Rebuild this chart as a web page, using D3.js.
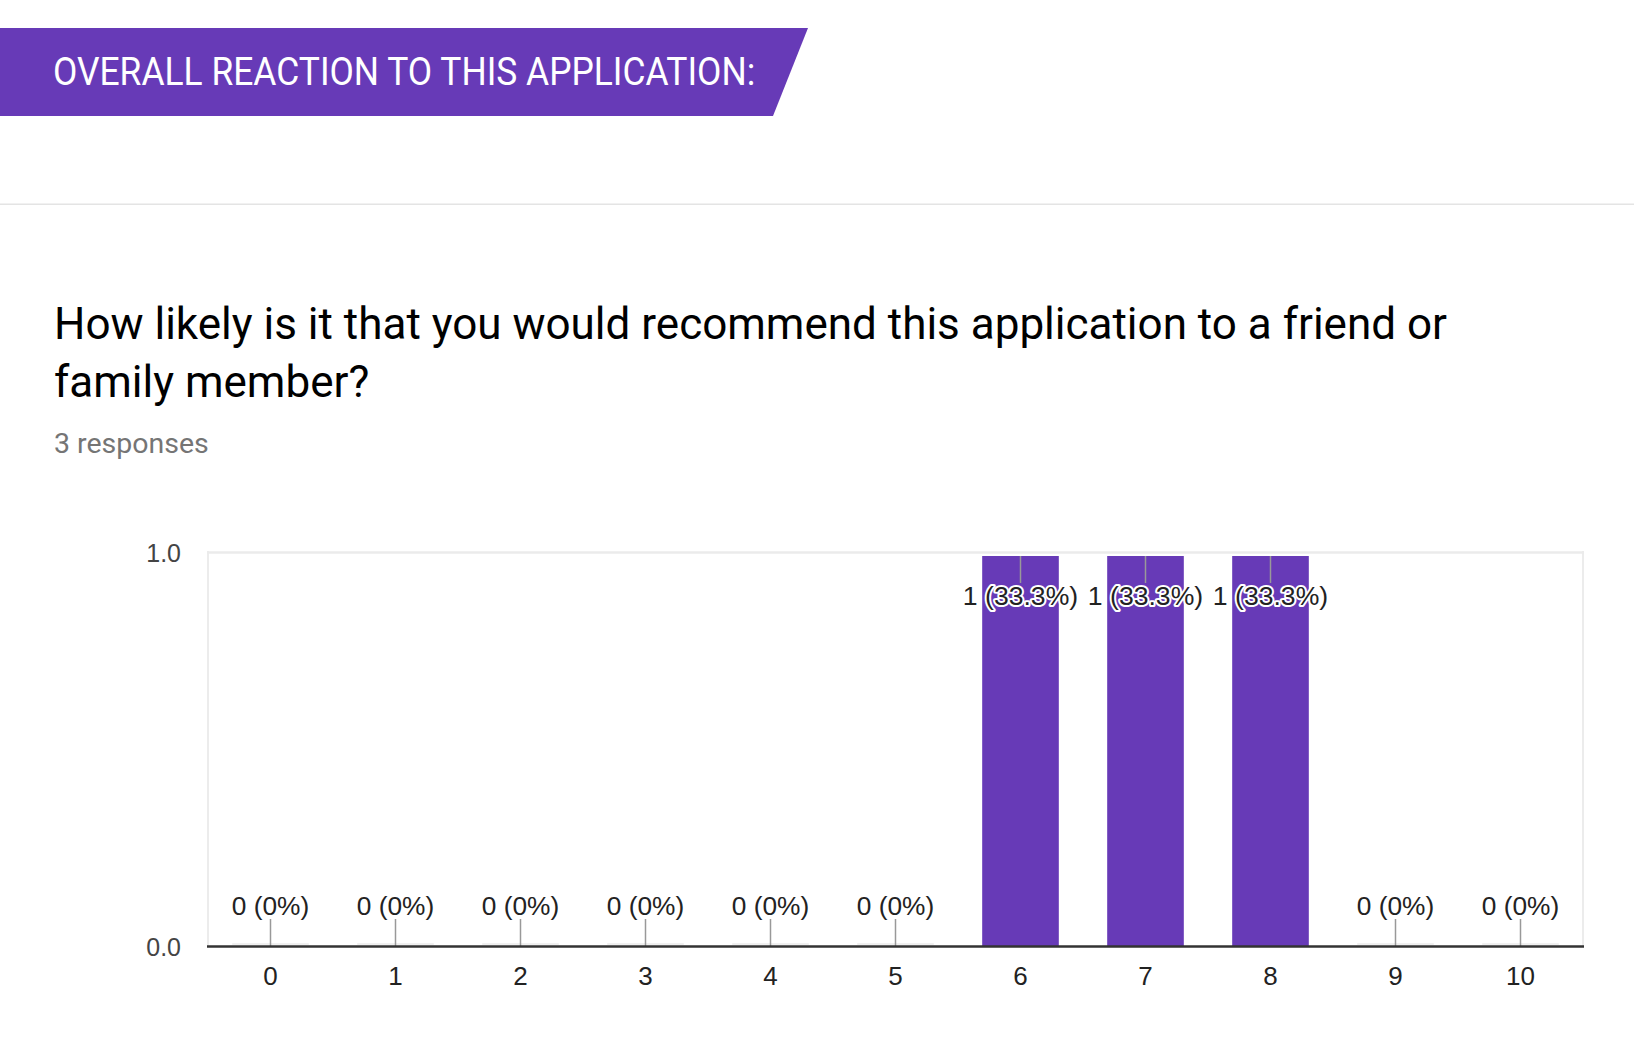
<!DOCTYPE html>
<html>
<head>
<meta charset="utf-8">
<script src="https://cdn.jsdelivr.net/npm/d3@7"></script>
<style>
  html, body { margin: 0; padding: 0; background: #fff; }
  svg { display: block; }
</style>
</head>
<body>
<svg id="chart" width="1634" height="1040"></svg>
<script>
const sectionTitle = "OVERALL REACTION TO THIS APPLICATION:";
const questionLines = ["How likely is it that you would recommend this application to a friend or", "family member?"];
const responsesLabel = "3 responses";
const categories = ["0", "1", "2", "3", "4", "5", "6", "7", "8", "9", "10"];
const counts = [0, 0, 0, 0, 0, 0, 1, 1, 1, 0, 0];
const percentLabels = ["0%", "0%", "0%", "0%", "0%", "0%", "33.3%", "33.3%", "33.3%", "0%", "0%"];
const yTicks = [0, 1];

(function () {
const purple = "#673ab7";
const svg = d3.select("#chart");

// Banner
svg.append("path")
  .attr("d", "M0,28 L808,28 L773,116 L0,116 Z")
  .attr("fill", purple);
svg.append("text")
  .attr("transform", "translate(53,85) scale(1,1.1)")
  .attr("font-family", "Roboto")
  .attr("font-size", 35.4)
  .attr("fill", "#fff")
  .text(sectionTitle);

// separator
svg.append("rect").attr("x", 0).attr("y", 203.5).attr("width", 1634).attr("height", 1.5).attr("fill", "#e4e4e4");

// Question
svg.selectAll("text.q").data(questionLines).join("text")
  .attr("class", "q")
  .attr("x", 54).attr("y", (d, i) => 339 + i * 58)
  .attr("font-family", "Roboto")
  .attr("font-size", 44)
  .attr("fill", "#000")
  .text(d => d);

svg.append("text")
  .attr("x", 54).attr("y", 453)
  .attr("font-family", "Roboto")
  .attr("font-size", 28.5)
  .attr("fill", "#757575")
  .text(responsesLabel);

// Chart
const pLeft = 208, pRight = 1583, pTop = 556, pBottom = 946;
const x = d3.scaleBand().domain(categories).range([pLeft, pRight]).paddingInner(0.387).paddingOuter(0.1935);
const y = d3.scaleLinear().domain([0, 1]).range([pBottom, pTop]);

const g = svg.append("g");

g.append("line").attr("x1", pLeft).attr("x2", pLeft).attr("y1", 551).attr("y2", pBottom)
  .attr("stroke", "#ececec").attr("stroke-width", 2);
g.append("line").attr("x1", pRight).attr("x2", pRight).attr("y1", 551).attr("y2", pBottom)
  .attr("stroke", "#ececec").attr("stroke-width", 2);
g.append("line").attr("x1", pLeft - 1).attr("x2", pRight + 1).attr("y1", 552.5).attr("y2", 552.5)
  .attr("stroke", "#ebebeb").attr("stroke-width", 2.5);

g.selectAll("rect.bar").data(counts).join("rect")
  .attr("class", "bar")
  .attr("x", (d, i) => x(categories[i]))
  .attr("width", x.bandwidth())
  .attr("y", d => y(d))
  .attr("height", d => y(0) - y(d))
  .attr("fill", purple);

g.selectAll("line.zero").data(counts).join("line")
  .attr("class", "zero")
  .attr("x1", (d, i) => x(categories[i]))
  .attr("x2", (d, i) => x(categories[i]) + x.bandwidth())
  .attr("y1", pBottom - 2).attr("y2", pBottom - 2)
  .attr("stroke", d => d === 0 ? "#e0e0e0" : "none").attr("stroke-width", 1);

const cx = (i) => x(categories[i]) + x.bandwidth() / 2;
g.selectAll("line.stem").data(counts).join("line")
  .attr("class", "stem")
  .attr("x1", (d, i) => cx(i)).attr("x2", (d, i) => cx(i))
  .attr("y1", d => d > 0 ? y(d) : y(d) - 27)
  .attr("y2", d => d > 0 ? y(d) + 27 : y(d))
  .attr("stroke", "#999").attr("stroke-width", 1.5);

const ann = g.selectAll("g.ann").data(counts).join("g").attr("class", "ann");
ann.each(function(d, i) {
  const yy = d > 0 ? y(d) + 49 : y(d) - 31;
  const label = d + " (" + percentLabels[i] + ")";
  const sel = d3.select(this);
  if (d > 0) {
    sel.append("text")
      .attr("x", cx(i)).attr("y", yy)
      .attr("text-anchor", "middle")
      .attr("font-family", "Liberation Sans, Arial")
      .attr("font-size", 26.6)
      .attr("fill", "none").attr("stroke", "#fff").attr("stroke-width", 4)
      .attr("stroke-linejoin", "round")
      .text(label);
  }
  sel.append("text")
    .attr("x", cx(i)).attr("y", yy)
    .attr("text-anchor", "middle")
    .attr("font-family", "Liberation Sans, Arial")
    .attr("font-size", d > 0 ? 26.6 : 26.3)
    .attr("fill", "#222")
    .text(label);
});

g.append("line").attr("x1", pLeft - 1).attr("x2", pRight + 1).attr("y1", pBottom + 0.5).attr("y2", pBottom + 0.5)
  .attr("stroke", "#333").attr("stroke-width", 2.5);

const xAxis = d3.axisBottom(x).tickSize(0).tickPadding(0);
const xg = svg.append("g").attr("transform", `translate(0,${pBottom + 39})`).call(xAxis);
xg.select(".domain").remove();
xg.selectAll("text")
  .attr("dy", 0)
  .attr("font-family", "Liberation Sans, Arial")
  .attr("font-size", 26)
  .attr("fill", "#222");

const yAxis = d3.axisLeft(y).tickValues(yTicks).tickFormat(d3.format(".1f")).tickSize(0).tickPadding(0);
const yg = svg.append("g").attr("transform", `translate(181,0)`).call(yAxis);
yg.select(".domain").remove();
yg.selectAll("text")
  .attr("dy", "0.35em")
  .attr("font-family", "Liberation Sans, Arial")
  .attr("font-size", 25)
  .attr("fill", "#444");
yg.selectAll(".tick").attr("transform", d => `translate(0,${d === 1 ? 553 : 947})`);
})();
</script>
</body>
</html>
